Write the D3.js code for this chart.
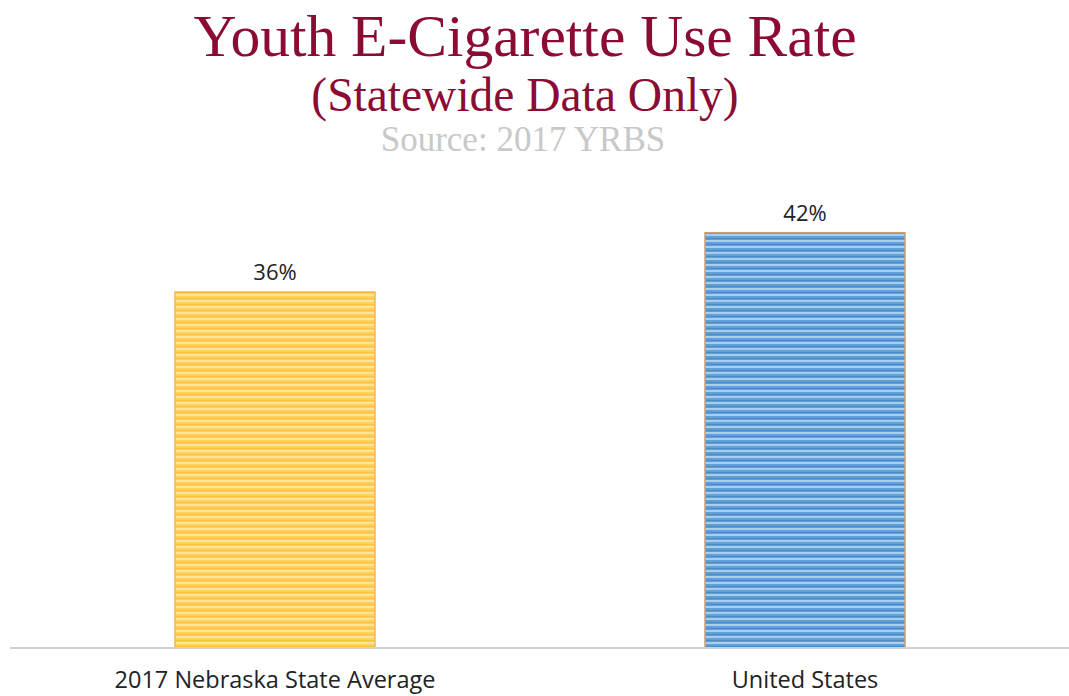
<!DOCTYPE html>
<html><head><meta charset="utf-8">
<script src="https://cdn.jsdelivr.net/npm/d3@7"></script>
<style>html,body{margin:0;padding:0;background:#fff;}svg{display:block;}</style>
</head><body>
<svg id="chart" width="1069" height="696"></svg>
<script>
const categories = ["2017 Nebraska State Average", "United States"];
const values = [36, 42];
const valueLabels = ["36%", "42%"];
const titleLines = ["Youth E-Cigarette Use Rate", "(Statewide Data Only)"];
const sourceText = "Source: 2017 YRBS";

const svg = d3.select("#chart");
const baseY = 648;

const x = d3.scaleBand().domain(categories).range([10, 1070]).paddingInner(0.6226).paddingOuter(0.3113);
const y = d3.scaleLinear().domain([0, 45]).range([baseY, baseY - 445]);

const defs = svg.append("defs");
function stripes(id, base, light, dark) {
  const p = defs.append("pattern").attr("id", id).attr("patternUnits", "userSpaceOnUse")
    .attr("width", 10).attr("height", 6);
  p.append("rect").attr("width", 10).attr("height", 6).attr("fill", base);
  p.append("rect").attr("y", 0).attr("width", 10).attr("height", 2).attr("fill", light);
  p.append("rect").attr("y", 4).attr("width", 10).attr("height", 1).attr("fill", dark);
}
stripes("pOrange", "#FFD060", "#FFE49A", "#FDBE3E");
stripes("pBlue", "#5FA0DB", "#A9CDEC", "#4A8CCB");
const fills = ["url(#pOrange)", "url(#pBlue)"];
const strokes = ["#F7B84A", "#C8A070"];

// titles
svg.append("text").attr("x", 525).attr("y", 56).attr("text-anchor", "middle")
  .attr("font-family", "Liberation Serif, Times New Roman, serif").attr("font-size", 59.5)
  .attr("fill", "#8C0B32").text(titleLines[0]);
svg.append("text").attr("x", 525).attr("y", 111).attr("text-anchor", "middle")
  .attr("font-family", "Liberation Serif, Times New Roman, serif").attr("font-size", 47.5)
  .attr("fill", "#8C0B32").text(titleLines[1]);
svg.append("text").attr("x", 523).attr("y", 151).attr("text-anchor", "middle")
  .attr("font-family", "Liberation Serif, Times New Roman, serif").attr("font-size", 35)
  .attr("fill", "#C8C8C8").text(sourceText);

// bars
svg.selectAll("rect.bar").data(values).join("rect").attr("class", "bar")
  .attr("x", (d, i) => x(categories[i])).attr("width", x.bandwidth())
  .attr("y", d => y(d)).attr("height", d => y(0) - y(d))
  .attr("fill", (d, i) => fills[i]).attr("stroke", (d, i) => strokes[i]).attr("stroke-width", 1.5);

// value labels
svg.selectAll("text.val").data(values).join("text").attr("class", "val")
  .attr("x", (d, i) => x(categories[i]) + x.bandwidth() / 2).attr("y", d => y(d) - 12)
  .attr("text-anchor", "middle").attr("font-family", "Open Sans, sans-serif").attr("font-size", 22)
  .attr("fill", "#222").text((d, i) => valueLabels[i]);

// axis
const axis = d3.axisBottom(x).tickSize(0).tickPadding(23);
const g = svg.append("g").attr("transform", `translate(0,${baseY})`).call(axis);
g.select(".domain").attr("stroke", "#D0D0D0").attr("stroke-width", 2).attr("d", "M10,0H1069");
g.selectAll("text").attr("font-family", "Open Sans, sans-serif").attr("font-size", 23.5).attr("fill", "#222");
</script>
</body></html>
